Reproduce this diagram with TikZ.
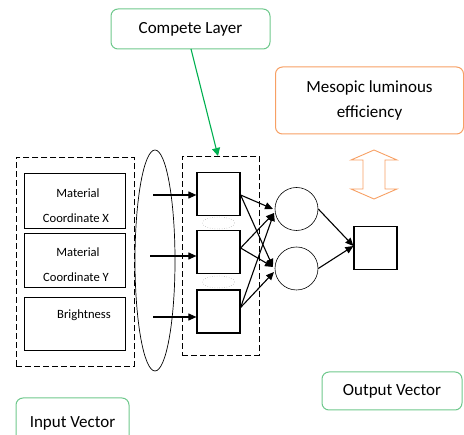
\documentclass[tikz,border=0pt]{standalone}
\usepackage{fontspec}
\setmainfont{Carlito}
\usetikzlibrary{arrows.meta,shapes.geometric}
\definecolor{lgreen}{RGB}{110,200,140}
\definecolor{dgreen}{RGB}{0,176,80}
\definecolor{lorange}{RGB}{247,160,100}
\tikzset{
  dbox/.style={draw,thick,dash pattern=on 6pt off 3pt},
  inbox/.style={draw,line width=1.2pt,minimum width=101pt,inner sep=0pt,anchor=north west},
  sq/.style={draw,line width=1.2pt,minimum width=43pt,minimum height=43pt,inner sep=0pt},
  neuron/.style={draw,line width=0.6pt,circle,minimum size=43pt,inner sep=0pt},
  lbl/.style={draw,rounded corners=7pt,line width=1pt,inner sep=0pt},
  arr/.style={-{Triangle[length=8pt,width=7pt]},line width=1.1pt},
  tiny/.style={font=\fontsize{12.6}{14}\selectfont},
  big/.style={font=\fontsize{17}{19}\selectfont}
}
\begin{document}
\begin{tikzpicture}[x=1pt,y=-1pt]
\useasboundingbox (0,0) rectangle (464,435);
% input dashed box
\node[dbox,minimum width=118pt,minimum height=209pt,inner sep=0pt,anchor=north west] (inbig) at (16,157) {};
\node[inbox,minimum height=55pt] (mx) at (24,173) {};
\node[tiny] (mxa) at (78,193) {Material};
\node[tiny] (mxb) at (76,218) {Coordinate X};
\node[inbox,minimum height=54pt] (my) at (24,233) {};
\node[tiny] (mya) at (78,252) {Material};
\node[tiny] (myb) at (76,277) {Coordinate Y};
\node[inbox,minimum height=53pt] (br) at (24,297) {};
\node[tiny] (bra) at (84,315) {Brightness};
% ellipse
\node[draw,line width=0.7pt,ellipse,minimum width=40pt,minimum height=221pt,inner sep=0pt] (ell) at (155,260.5) {};
% compete dashed box
\node[dbox,minimum width=77pt,minimum height=199pt,inner sep=0pt,anchor=north west] (cbox) at (182,156) {};
\node[sq] (s1) at (218.5,194) {};
\node[sq] (s2) at (218.5,252) {};
\node[sq] (s3) at (218.5,311.5) {};
\node[draw,gray,dotted,ellipse,minimum width=32pt,minimum height=12pt,inner sep=0pt] (d1) at (218.5,223) {};
\node[draw,gray,dotted,ellipse,minimum width=32pt,minimum height=12pt,inner sep=0pt] (d2) at (218.5,282) {};
\coordinate (i1) at (153,195);
\coordinate (i2) at (150,256);
\coordinate (i3) at (153,317);
\draw[arr] (i1) -- (s1.west |- i1);
\draw[arr] (i2) -- (s2.west |- i2);
\draw[arr] (i3) -- (s3.west |- i3);
% neurons
\node[neuron] (c1) at (296.5,209) {};
\node[neuron] (c2) at (296.5,268.5) {};
\node[sq] (out) at (375.5,248) {};
\coordinate (a1) at (273,209);
\coordinate (a2) at (273,267);
\coordinate (b1) at (274,213);
\coordinate (b2) at (274,272);
\draw[arr] ([yshift=-1pt]s1.east) -- (a1);
\draw[arr] ([yshift=-1pt]s1.east) -- (a2);
\draw[arr] ([yshift=4pt]s2.east) -- (b1);
\draw[arr] ([yshift=4pt]s2.east) -- (a2);
\draw[arr] ([yshift=4pt]s3.east) -- (b1);
\draw[arr] ([yshift=4pt]s3.east) -- (b2);
\draw[arr] (c1.east) -- ([yshift=2pt]out.west);
\draw[arr] (c2.east) -- ([yshift=2pt]out.west);
% compete layer label
\node[lbl,draw=lgreen,minimum width=159pt,minimum height=40pt,big] (cl) at (190.5,29) {Compete Layer};
\draw[dgreen,line width=1.1pt,-{Triangle[length=8pt,width=8pt]}] (191,49) -- (cbox.north -| 218,0);
% mesopic
\node[lbl,draw=lorange,minimum width=188pt,minimum height=67pt,align=center,big] (me) at (369.5,100.5) {Mesopic luminous\\[6pt]efficiency};
\draw[lorange,line width=0.9pt] (374,150) -- (397,160) -- (385,160) -- (385,189) -- (397,189) -- (374,199) -- (351,189) -- (363,189) -- (363,160) -- (351,160) -- cycle;
% output / input vector labels
\node[lbl,draw=lgreen,minimum width=140pt,minimum height=38pt,big] (ov) at (392,391) {Output Vector};
\node[lbl,draw=lgreen,minimum width=113pt,minimum height=50pt,big] (iv) at (72.5,423) {Input Vector};
\end{tikzpicture}
\end{document}
